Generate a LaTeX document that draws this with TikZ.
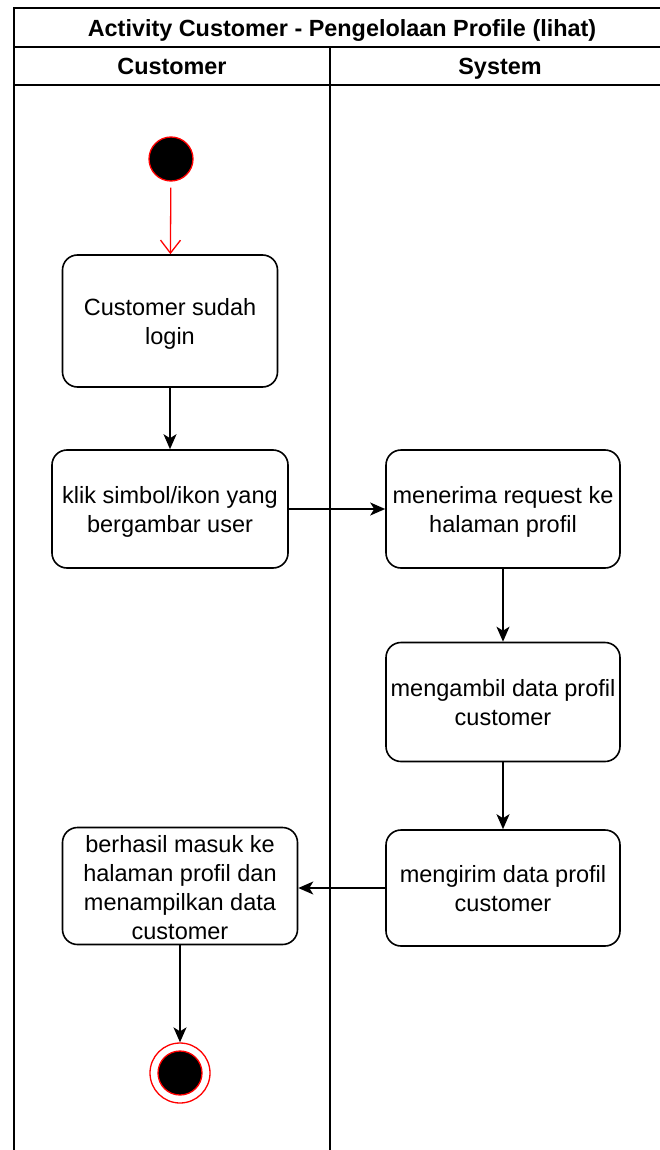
\documentclass[tikz,border=0pt]{standalone}
\usepackage{fontspec}
\setmainfont{Liberation Sans}
\usetikzlibrary{arrows.meta}
\begin{document}
\begin{tikzpicture}[x=1pt,y=-1pt,
  lane/.style={line width=1.6pt,draw=black},
  act/.style={draw=black,line width=1.6pt,rounded corners=15pt,align=center,
    font=\fontsize{23.5}{29}\selectfont,inner sep=2pt,text height=51pt,text depth=5pt},
  flow/.style={line width=1.6pt,-{Stealth[length=15pt,width=13pt,inset=4pt]}},
  startflow/.style={line width=1.3pt,draw=red,-{Straight Barb[length=13pt,width=20pt]}},
  hdr/.style={font=\fontsize{23.4}{28}\selectfont\bfseries,text height=17pt,text depth=0pt}]
\useasboundingbox (0,0) rectangle (659,1150);
% swimlane frame
\draw[lane] (14,1170) -- (14,8) -- (680,8);
\draw[lane] (14,47) -- (680,47);
\draw[lane] (14,85) -- (680,85);
\draw[lane] (330,47) -- (330,1170);
\node[hdr] (title) at (342,28) {Activity Customer - Pengelolaan Profile (lihat)};
\node[hdr] (hcust) at (172,66) {Customer};
\node[hdr] (hsys) at (500,66) {System};
% nodes
\node[circle,fill=black,draw=red,line width=1.3pt,minimum size=44pt,inner sep=0pt] (start) at (171,159) {};
\node[act,minimum width=215pt,minimum height=132pt] (b1) at (170,321) {Customer sudah\\login};
\node[act,minimum width=236pt,minimum height=118pt] (b2) at (170,509) {klik simbol/ikon yang\\bergambar user};
\node[act,minimum width=234pt,minimum height=118pt] (b3) at (503,509) {menerima request ke\\halaman profil};
\node[act,minimum width=234pt,minimum height=119pt] (b4) at (503,702) {mengambil data profil\\customer};
\node[act,minimum width=234pt,minimum height=116pt] (b5) at (503,888) {mengirim data profil\\customer};
\node[act,minimum width=235pt,minimum height=117pt,inner ysep=0pt,text height=111pt] (b6) at (180,886) {berhasil masuk ke\\halaman profil dan\\menampilkan data\\customer};
\node[circle,draw=red,line width=1.3pt,minimum size=60pt,inner sep=0pt] (end) at (180,1073) {};
\node[circle,fill=black,draw=red,line width=1.3pt,minimum size=44pt,inner sep=0pt] (endin) at (180,1073) {};
% connectors
\draw[startflow,shorten <=6pt] (start) -- (b1);
\draw[flow] (b1) -- (b2);
\draw[flow] (b2) -- (b3);
\draw[flow] (b3) -- (b4);
\draw[flow] (b4) -- (b5);
\draw[flow] (b5.west) -- (b5.west -| b6.east);
\draw[flow] (b6) -- (end);
\end{tikzpicture}
\end{document}
